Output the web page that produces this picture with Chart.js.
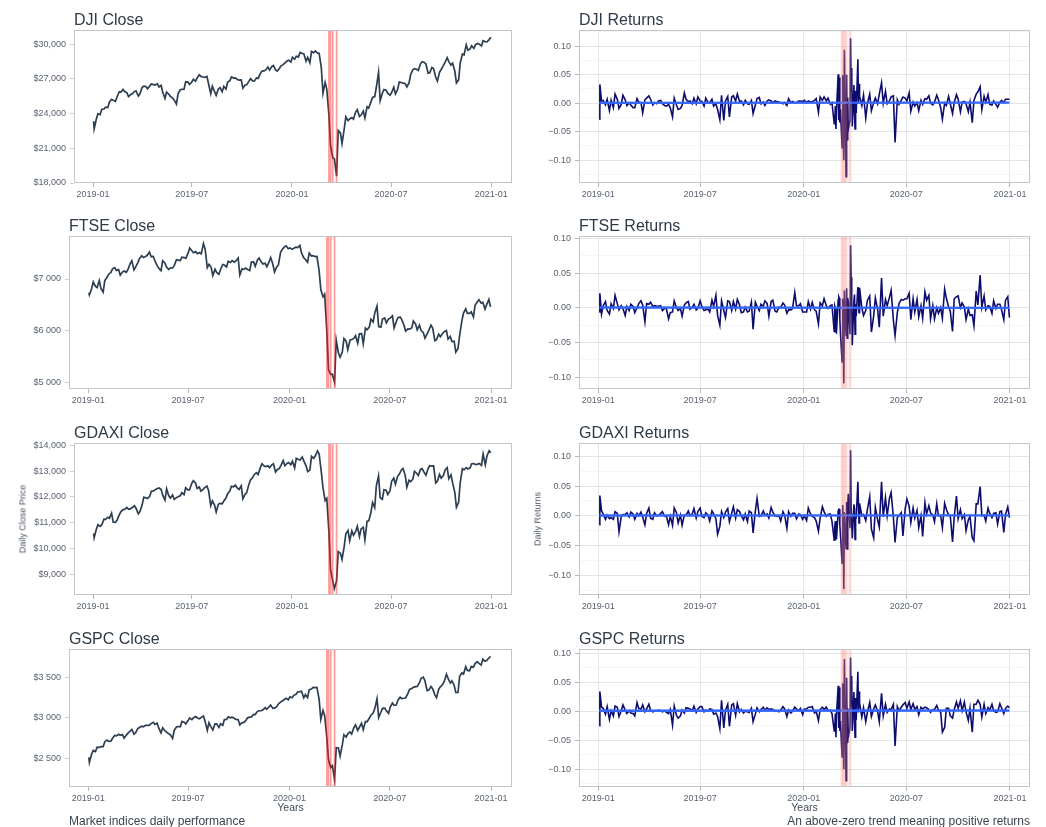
<!DOCTYPE html>
<html><head><meta charset="utf-8">
<script src="https://cdn.jsdelivr.net/npm/chart.js@4.4.1/dist/chart.umd.min.js"></script>
<style>
html,body{margin:0;padding:0;background:#fff;width:1046px;height:827px;overflow:hidden;font-family:"Liberation Sans",Arial,sans-serif;}
.pane{position:absolute;}
.ttl{position:absolute;font-size:16px;line-height:16px;color:#2e3a46;white-space:nowrap;}
.axt{position:absolute;font-size:10.5px;line-height:10.5px;color:#3f4a56;white-space:nowrap;}
.yt{position:absolute;font-size:9px;line-height:9px;color:#4a5562;white-space:nowrap;transform:translate(-50%,-50%) rotate(-90deg);}
.cap{position:absolute;font-size:12px;line-height:12px;color:#3a4552;white-space:nowrap;}
</style></head><body>
<script>
// ---------- axis ticks / labels ----------
const xTickDates = ['2019-01-01','2019-07-01','2020-01-01','2020-07-01','2021-01-01'];
const xTickLabels = ['2019-01','2019-07','2020-01','2020-07','2021-01'];
const eventDates = ['2020-03-09','2020-03-12','2020-03-16','2020-03-23'];

const djiCloseTicks = [18000,21000,24000,27000,30000];
const djiCloseTickLabels = ['$18,000','$21,000','$24,000','$27,000','$30,000'];
const ftseCloseTicks = [5000,6000,7000];
const ftseCloseTickLabels = ['$5 000','$6 000','$7 000'];
const gdaxiCloseTicks = [9000,10000,11000,12000,13000,14000];
const gdaxiCloseTickLabels = ['$9,000','$10,000','$11,000','$12,000','$13,000','$14,000'];
const gspcCloseTicks = [2500,3000,3500];
const gspcCloseTickLabels = ['$2 500','$3 000','$3 500'];
const retMajorTicks = [-0.10,-0.05,0,0.05,0.10];
const retMajorLabels = ['\u22120.10','\u22120.05','0.00','0.05','0.10'];
const retMinorTicks = [-0.125,-0.075,-0.025,0.025,0.075,0.125];

// ---------- dates ----------
const DAY0 = Date.UTC(2019,0,1);
function dayOf(s){const p=s.split('-').map(Number);return Math.round((Date.UTC(p[0],p[1]-1,p[2])-DAY0)/86400000);}
function isoOf(d){return new Date(DAY0+d*86400000).toISOString().slice(0,10);}
function weekdaysBetween(a,b,dows){const out=[];for(let d=dayOf(a);d<=dayOf(b);d++){const w=new Date(DAY0+d*86400000).getUTCDay();if(dows.includes(w))out.push(isoOf(d));}return out;}

// close: first two days, then every Monday and Thursday
const closeDates = ['2019-01-02','2019-01-03'].concat(weekdaysBetween('2019-01-07','2020-12-31',[1,4]));
// returns: Mon/Thu, every weekday through the crash
const retDates = ['2019-01-03','2019-01-04'].concat(
  weekdaysBetween('2019-01-07','2020-02-20',[1,4]),
  weekdaysBetween('2020-02-24','2020-04-09',[1,2,3,4,5]),
  weekdaysBetween('2020-04-13','2020-12-31',[1,4]));

// ---------- close prices ----------
const djiClose = [
23346,22686, 23531,24001, 23910,24370, 24404,24553, 24528,24999,
25239,25169, 25053,25439, 25891,25850, 26091,25916,
25819,25473, 25650,25709, 25914,25962, 25516,25717,
26258,26385, 26341,26143, 26384,26559, 26511,26462, 26592,26307,
26438,25828, 25324,25862, 25679,25490, 25347,25169,
24819,25720, 26062,26106, 26112,26753, 26727,26526,
26717,26966, 26806,27088, 27359,27223, 27171,27140, 27221,26583,
25718,26378, 25897,25579, 26135,26252, 25898,26362,
26118,26728, 26835,27182, 27076,27095, 26949,26891, 26917,26201,
26478,26497, 26787,27026, 26827,26806, 27091,27046,
27462,27675, 27691,27782, 28036,27767, 28067,28164,
27783,27677, 27909,28133, 28235,28376, 28551,28621, 28462,28869,
28703,28957, 28907,29298, 29196,29160, 28535,28859,
28400,29380, 29276,29423, 29232,29219, 27961,25767,
26703,26121, 23851,21200, 20189,20087, 18592,22552, 22327,21413,
22680,23719, 23390,23538, 23650,23516, 24134,24346,
23750,23876, 24222,23625, 24597,24474, 24995,25401,
25475,26282, 27572,25128, 25763,26080, 26025,25746, 25596,25827,
26287,25707, 26085,26735, 26680,26652, 26584,26314,
26664,27387, 27791,27897, 27844,27740, 28308,28493, 28430,28292,
27500,27535, 27993,27902, 27147,26815, 27584,27817,
28149,28425, 28838,28494, 28195,28364, 27685,26659,
26925,28390, 29158,29080, 29950,29483, 29591,29872, 29639,29969,
30070,29999, 29861,30303, 30216,30200, 30404,30606];
const ftseClose = [
6734,6692, 6810,6943, 6855,6834, 6970,6818, 6747,6969,
7034,7093, 7129,7197, 7219,7168, 7183,7075,
7134,7157, 7130,7185, 7299,7355, 7177,7234,
7318,7401, 7451,7418, 7437,7460, 7523,7434, 7440,7351,
7260,7207, 7163,7353, 7311,7231, 7185,7218,
7214,7260, 7375,7368, 7358,7424, 7416,7402,
7497,7603, 7549,7510, 7531,7493, 7514,7489, 7686,7585,
7223,7286, 7226,7067, 7190,7128, 7090,7184,
7281,7271, 7235,7345, 7321,7356, 7326,7351, 7408,7078,
7197,7186, 7213,7182, 7163,7328, 7331,7248,
7369,7406, 7328,7293, 7307,7238, 7326,7416,
7286,7137, 7233,7273, 7519,7573, 7624,7645, 7587,7604,
7576,7598, 7617,7609, 7651,7507, 7412,7381,
7326,7504, 7446,7453, 7433,7436, 7157,6796,
6654,6705, 5965,5237, 5151,5152, 4994,5816, 5563,5480,
5582,5843, 5792,5628, 5812,5826, 5846,5901,
5753,5935, 5940,5741, 6048,6015, 6068,6219,
6166,6341, 6473,6077, 6064,6224, 6245,6147, 6225,6240,
6285,6050, 6176,6250, 6261,6211, 6104,5990,
6032,6026, 6050,6186, 6128,6013, 6104,6000, 5963,5851,
5937,6003, 6105,6049, 5804,5823, 5927,5879,
5942,5978, 6001,5832, 5884,5785, 5793,5582,
5654,5906, 6186,6339, 6421,6334, 6334,6363, 6266,6490,
6555,6599, 6531,6550, 6416,6502, 6602,6461];
const gdaxiClose = [
10580,10417, 10747,10922, 10856,10919, 11136,11130, 11210,11173,
11368,11022, 11014,11090, 11299,11423, 11505,11516,
11592,11518, 11543,11588, 11657,11550, 11346,11428,
11681,11988, 11964,11935, 12020,12222, 12236,12282, 12328,12346,
12287,12060, 11876,12310, 12041,11953, 12071,11902,
11972,12009, 12045,12169, 12086,12355, 12274,12271,
12521,12629, 12543,12332, 12387,12227, 12290,12362, 12418,12253,
11658,11845, 11680,11412, 11715,11747, 11730,11838,
11953,12126, 12226,12410, 12388,12457, 12342,12288, 12428,11925,
12097,12164, 12486,12655, 12748,12872, 12941,12867,
13136,13289, 13198,13180, 13207,13137, 13246,13287,
12964,13055, 13105,13222, 13407,13211, 13300,13337, 13249,13386,
13127,13495, 13452,13429, 13548,13388, 13205,12982,
13045,13575, 13494,13595, 13783,13665, 12958,12367,
11858,11944, 10625,9161, 8742,8442, 8741,9874, 9816,9571,
10076,10565, 10696,10301, 10676,10514, 10660,10862,
10467,10759, 10824,10337, 11058,11066, 11391,11781,
11587,12431, 12820,11970, 11911,12281, 12262,12093, 12232,12608,
12733,12489, 12800,12874, 13046,13104, 12838,12379,
12647,12592, 12687,12993, 12920,12830, 13066,13096, 12945,12843,
13100,13209, 13194,13208, 12542,12607, 12871,12731,
12828,13042, 13138,12704, 12854,12543, 12177,11598,
11789,12568, 13095,13053, 13138,13087, 13127,13287, 13291,13252,
13271,13296, 13223,13667, 13246,13588, 13790,13719];
const gspcClose = [
2510,2448, 2550,2596, 2583,2636, 2633,2643, 2644,2704,
2725,2707, 2710,2746, 2780,2775, 2796,2784,
2792,2749, 2784,2809, 2833,2855, 2798,2815,
2867,2880, 2895,2888, 2905,2905, 2908,2927, 2943,2918,
2932,2871, 2812,2876, 2840,2822, 2802,2789,
2744,2843, 2886,2891, 2889,2954, 2945,2924,
2964,2996, 2976,3000, 3014,2996, 2986,3004, 3021,2954,
2845,2938, 2883,2848, 2924,2923, 2879,2924,
2906,2977, 2979,3010, 2998,3006, 2992,2978, 2977,2911,
2939,2938, 2966,2998, 3007,3010, 3040,3038,
3078,3085, 3087,3097, 3122,3104, 3134,3154,
3114,3118, 3136,3169, 3191,3206, 3224,3240, 3221,3258,
3246,3275, 3288,3317, 3321,3326, 3244,3284,
3249,3345, 3352,3374, 3370,3373, 3226,2979,
3090,3024, 2747,2481, 2386,2409, 2237,2630, 2627,2527,
2664,2790, 2762,2800, 2824,2798, 2878,2912,
2843,2882, 2930,2852, 2954,2949, 2992,3030,
3056,3112, 3232,3002, 3067,3115, 3117,3084, 3053,3130,
3180,3152, 3155,3216, 3251,3236, 3239,3246,
3295,3349, 3360,3373, 3382,3385, 3431,3485, 3500,3455,
3332,3339, 3383,3357, 3281,3247, 3351,3380,
3408,3446, 3534,3484, 3427,3453, 3400,3310,
3310,3510, 3550,3537, 3627,3582, 3577,3630, 3622,3667,
3691,3668, 3647,3722, 3694,3703, 3735,3756];

// ---------- daily returns ----------
const djiRet = [-.028,.033,
.004,.005,-.003,.007,-.013,.005,-.008,.016,
.007,-.009,-.002,.014,.006,-.004,.001,-.003,
-.008,-.008,.008,.002,.001,-.017,.006,.009,
.013,.007,-.003,.001,-.001,.004,.005,-.001,-.004,-.005,
-.002,-.008,-.024,.009,-.003,-.011,-.009,-.004,
.018,.007,.003,.004,-.001,.009,-.001,.011,
.004,.003,-.005,.009,.001,.001,.007,-.005,-.001,-.011,
-.029,.014,-.030,.004,.012,-.024,.011,.013,
.004,.016,.003,.004,-.003,.005,-.001,-.002,.005,-.018,
-.003,.008,.010,-.001,.002,-.004,.004,.006,
.004,.001,.004,.003,.002,.001,-.001,.001,
-.004,.008,.001,.003,.001,.001,.004,.004,.003,.005,
.001,.004,.002,.003,.005,.008,-.016,.011,
.005,.011,.004,.009,-.002,.001,
-.036,-.031,-.005,-.045,-.014,
.051,-.030,.045,-.034,-.010,
-.078,.049,-.060,-.100,.094,
-.129,.050,-.064,.010,-.046,
-.030,.114,.023,.062,-.041,
.032,-.018,-.045,.022,-.017,
.077,-.001,.034,.012,
-.004,.014,-.026,.000,.016,-.013,
.001,.009,-.001,.016,.036,.000,.021,-.001,
.004,.011,.013,-.069,.006,-.002,.005,.011,.009,.004,
.018,-.014,.002,-.005,.001,-.013,.005,-.002,
.008,.007,.013,.000,-.003,.002,.014,.006,-.008,-.028,
.000,-.004,.012,-.001,-.018,.001,.015,.007,
-.015,.002,.003,-.001,-.015,.002,-.034,.005,
.016,.020,.029,-.011,.012,.002,.015,-.002,-.003,.004,
-.002,-.007,.002,.005,.001,.007,.007,.007];
const ftseRet = [-.006,.021,
-.009,.003,.009,-.004,-.009,.006,-.001,.018,
.006,-.003,.003,-.001,-.011,.002,-.004,.005,
.002,-.007,.000,.006,.010,.004,-.020,.006,
.005,.008,.002,.003,.002,.002,.003,-.004,-.001,-.001,
-.016,-.007,-.006,.010,.000,-.004,-.001,-.012,
.004,.007,.009,-.002,.001,.005,-.003,-.001,
.010,.002,-.004,-.003,-.002,-.006,.011,.002,.018,-.011,
-.025,.010,-.004,-.014,.010,.009,-.004,.009,
-.002,.012,.004,-.007,-.006,.001,-.006,-.005,.008,-.031,
.008,.002,-.004,.005,.002,.010,.006,-.012,
.009,.011,-.005,-.006,.001,.000,.007,.004,
-.008,-.003,-.003,-.001,.022,.003,.003,.006,-.006,-.006,
-.006,.009,-.002,.008,-.003,-.005,-.023,.007,
.003,.013,.003,-.001,.003,.004,
-.034,.002,-.001,-.035,-.036,
.011,.016,.014,-.016,-.036,
-.078,.013,-.014,-.109,.025,
-.040,.028,-.044,.014,.008,
-.038,.090,.044,.014,-.054,
.010,.019,-.038,.005,-.012,
.030,.021,-.007,.029,
.000,-.011,-.004,.011,.017,-.035,
-.012,.014,-.002,-.028,.043,-.012,.012,.003,
.015,.025,-.018,-.040,-.007,.006,.012,.011,.013,.013,
.021,-.017,.013,-.006,.012,-.013,.003,-.015,
.023,.011,.018,-.016,.003,-.016,.000,-.008,.000,-.015,
.027,.014,.001,-.005,-.034,.013,.016,.017,
.000,.007,.001,-.017,-.002,-.011,-.010,-.026,
.024,.004,.047,.001,.017,-.003,.003,.002,-.008,.010,
-.001,.005,.005,-.003,-.017,.011,.016,-.014];
const gdaxiRet = [-.015,.034,
.008,.003,-.006,.001,-.005,-.003,-.006,.007,
.004,-.027,-.001,.002,.002,.005,-.002,.006,
.003,-.006,.004,.000,.006,-.002,-.015,.004,
.013,-.004,-.006,.005,.000,.000,.004,.007,-.001,.000,
-.015,-.001,-.016,.013,.005,-.012,.001,-.016,
.001,.001,.008,.000,.003,.012,-.004,.007,
.013,-.001,-.003,.005,.001,-.009,.008,.003,-.005,-.031,
-.018,.007,-.003,.006,.012,-.010,.004,.015,
-.004,.010,.007,.000,-.007,.003,-.010,.008,.005,-.029,
.008,.029,-.001,.000,.008,.001,.003,-.004,
.014,.006,.000,-.001,.000,-.009,.007,.001,
-.021,.007,-.001,.004,.004,-.005,.003,.002,-.006,.000,
-.008,.013,.003,-.001,-.003,-.009,-.026,-.004,
.015,.007,-.001,.002,.003,-.009,
-.041,-.019,-.009,-.032,-.040,
.008,.011,.011,-.016,-.030,
-.080,.018,-.004,-.123,.006,
-.055,.023,-.056,.015,.037,
-.021,.110,.013,.013,-.038,
.019,.012,-.040,.003,-.005,
.057,.020,-.012,.021,
.000,.002,-.008,.011,.032,-.022,
-.037,.014,-.007,-.019,.057,-.002,.030,.000,
.029,.039,-.002,-.045,-.003,.000,.005,-.034,.012,.028,
.016,-.011,.013,-.004,.009,-.020,.000,-.035,
.022,.003,.017,.005,.001,-.010,.020,.000,.000,-.020,
.021,.011,.001,.000,-.044,-.002,.033,-.005,
.010,-.005,.002,-.025,-.007,-.001,-.037,-.042,
.020,.020,.049,.000,.001,-.009,.013,.004,-.003,.004,
.005,-.014,.007,.008,-.028,.002,.015,-.003];
const gspcRet = [-.025,.034,
.007,.005,-.005,.008,-.014,.001,-.008,.009,
.007,-.009,.001,.011,.002,-.004,.001,-.003,
-.004,-.008,.015,.005,.004,.011,-.001,.004,
.012,.002,-.001,.000,.000,.002,.001,-.001,.001,-.002,
-.004,.003,-.024,.009,-.007,-.012,-.008,.002,
-.003,.006,.005,.004,.001,.009,-.002,.004,
.008,.008,-.001,.002,.000,.004,.003,-.005,-.003,-.009,
-.030,.019,-.029,.002,.012,-.026,.011,.013,
-.007,.013,-.001,.003,-.003,.000,-.001,-.002,.005,-.018,
-.005,.006,-.001,.003,.007,.002,.006,.003,
.004,.003,.000,.001,-.001,.002,.008,.004,
-.009,.002,-.003,.000,.007,.004,.001,.005,-.006,.004,
.004,.007,.007,.008,-.003,.000,-.016,.003,
.007,.003,.007,.001,.002,-.004,
-.034,-.031,-.004,-.045,-.008,
.044,-.029,.041,-.034,-.017,
-.079,.048,-.050,-.100,.090,
-.120,.058,-.053,.005,-.044,
-.029,.093,.011,.061,-.034,
.033,-.016,-.045,.023,-.015,
.068,-.002,.034,.014,
-.010,.006,-.018,-.001,.015,-.009,
.004,.011,.000,-.018,.031,-.008,.012,-.002,
.004,.003,.012,-.060,.008,.001,.007,.011,.015,.005,
.016,.003,.013,.003,.008,-.006,.007,.004,
.007,.006,.003,-.002,.003,.003,.010,.002,-.002,-.036,
-.028,.005,.005,-.008,-.012,.003,.016,.005,
.018,.001,.016,-.001,-.016,.005,-.036,.012,
.012,.019,.012,-.010,.012,-.004,.006,.002,.012,.001,
-.002,-.001,.013,.006,-.004,.005,.009,.006];

// linear trend (start, end) of returns
const djiTrend = [0.0006,0.0010];
const ftseTrend = [0.0003,-0.0001];
const gdaxiTrend = [0.0005,0.0006];
const gspcTrend = [0.0008,0.0012];

// ---------- drawing ----------
Chart.defaults.font.family = '"Liberation Sans", Arial, sans-serif';
const TICK_COLOR = '#5a6370';
const TICKMARK = '#a9b0b7';

const panelPlugin = {
  id:'panel',
  afterDatasetsDraw(chart, args, o){
    const ctx = chart.ctx, a = chart.chartArea, xs = chart.scales.x;
    ctx.save();
    ctx.beginPath(); ctx.rect(a.left, a.top, a.right-a.left, a.bottom-a.top); ctx.clip();
    ctx.strokeStyle = o.color; ctx.lineWidth = o.width;
    o.days.forEach(d => { const px = xs.getPixelForValue(d); ctx.beginPath(); ctx.moveTo(px, a.top); ctx.lineTo(px, a.bottom); ctx.stroke(); });
    ctx.restore();
    ctx.save(); ctx.strokeStyle = '#c2c6cb'; ctx.lineWidth = 1;
    ctx.strokeRect(Math.round(a.left)+0.5, Math.round(a.top)+0.5, Math.round(a.right-a.left)-1, Math.round(a.bottom-a.top)-1);
    ctx.restore();
  }
};

const panels = [
 {title:'DJI Close', col:0, left:74, right:512, top:29, bottom:183, kind:'close', values:djiClose, yMin:18000, yMax:31200, yTicks:djiCloseTicks, yLabels:djiCloseTickLabels},
 {title:'DJI Returns', col:520, left:579, right:1030, top:29, bottom:183, kind:'ret', values:djiRet, trend:djiTrend, yMin:-0.140, yMax:0.1278},
 {title:'FTSE Close', col:0, left:69, right:512, top:235, bottom:389, kind:'close', values:ftseClose, yMin:4865, yMax:7827, yTicks:ftseCloseTicks, yLabels:ftseCloseTickLabels},
 {title:'FTSE Returns', col:520, left:579, right:1030, top:235, bottom:389, kind:'ret', values:ftseRet, trend:ftseTrend, yMin:-0.1171, yMax:0.1029},
 {title:'GDAXI Close', col:0, left:74, right:512, top:442, bottom:595, kind:'close', values:gdaxiClose, yMin:8192, yMax:14077, yTicks:gdaxiCloseTicks, yLabels:gdaxiCloseTickLabels, yTitle:'Daily Close Price', yTitleX:23},
 {title:'GDAXI Returns', col:520, left:579, right:1030, top:442, bottom:595, kind:'ret', values:gdaxiRet, trend:gdaxiTrend, yMin:-0.1333, yMax:0.1217, yTitle:'Daily Returns', yTitleX:538},
 {title:'GSPC Close', col:0, left:69, right:512, top:648, bottom:787, kind:'close', values:gspcClose, yMin:2146, yMax:3841, yTicks:gspcCloseTicks, yLabels:gspcCloseTickLabels, xTitle:'Years'},
 {title:'GSPC Returns', col:520, left:579, right:1030, top:648, bottom:787, kind:'ret', values:gspcRet, trend:gspcTrend, yMin:-0.1308, yMax:0.1068, xTitle:'Years'}
];

const xTickDays = xTickDates.map(dayOf);
const eventDays = eventDates.map(dayOf);
const isMajorRet = v => retMajorTicks.some(m => Math.abs(m - v) < 1e-9);

function addText(cls, text, css){const d=document.createElement('div');d.className=cls;d.textContent=text;d.style.cssText=css;document.body.appendChild(d);}

panels.forEach(p => {
  const isRet = p.kind === 'ret';
  const ct = p.top - 8;
  const w = p.right + 6 - p.col, h = p.bottom + 22 - ct;
  const wrap = document.createElement('div');
  wrap.className = 'pane';
  wrap.style.cssText = `left:${p.col}px;top:${ct}px;width:${w}px;height:${h}px`;
  const cv = document.createElement('canvas');
  wrap.appendChild(cv); document.body.appendChild(wrap);
  const yW = p.left - p.col;

  let datasets, yTickVals, yLabelFn;
  if (isRet) {
    const dates = retDates.map(dayOf);
    datasets = [
      {data: [{x:dates[0], y:p.trend[0]}, {x:dates[dates.length-1], y:p.trend[1]}], borderColor:'#3366FF', borderWidth:2.4, pointRadius:0, order:0},
      {data: p.values.map((v,i)=>({x:dates[i], y:v})), borderColor:'#0d0d6e', borderWidth:1.6, pointRadius:0, order:1}
    ];
    yTickVals = retMajorTicks.concat(retMinorTicks.filter(v => v >= p.yMin && v <= p.yMax)).sort((a,b)=>a-b);
    yLabelFn = v => { const k = retMajorTicks.findIndex(m => Math.abs(m - v) < 1e-9); return k >= 0 ? retMajorLabels[k] : ''; };
  } else {
    const dates = closeDates.map(dayOf);
    datasets = [{data: p.values.map((v,i)=>({x:dates[i], y:v})), borderColor:'#2c3e50', borderWidth:1.7, pointRadius:0}];
    yTickVals = p.yTicks.slice();
    yLabelFn = v => p.yLabels[p.yTicks.indexOf(v)];
  }

  new Chart(cv, {
    type:'line',
    data:{datasets},
    options:{
      responsive:true, maintainAspectRatio:false, animation:false,
      layout:{padding:{left:0, top:8, right:6, bottom:0}},
      elements:{line:{tension:0}},
      plugins:{legend:{display:false}, tooltip:{enabled:false},
        panel:{days:eventDays, color: isRet ? 'rgba(250,128,114,0.30)' : 'rgba(255,30,30,0.45)', width: isRet ? 2.8 : 1.7}},
      scales:{
        x:{type:'linear', min: isRet ? -34 : -35, max: isRet ? 766.5 : 769,
          afterFit(s){ s.height = 22; },
          afterBuildTicks(s){ s.ticks = xTickDays.map(v => ({value:v})); },
          ticks:{callback:(v,i)=>xTickLabels[i], autoSkip:false, maxRotation:0, minRotation:0, padding:2, color:TICK_COLOR, font:{size:9}},
          grid:{display:true, drawOnChartArea:isRet, color:'#e1e4e8', lineWidth:0.9, drawTicks:true, tickLength:4, tickColor:TICKMARK},
          border:{display:false}},
        y:{type:'linear', min:p.yMin, max:p.yMax,
          afterFit(s){ s.width = yW; },
          afterBuildTicks(s){ s.ticks = yTickVals.map(v => ({value:v})); },
          ticks:{callback:(v)=>yLabelFn(v), autoSkip:false, padding:4, color:TICK_COLOR, font:{size:9}},
          grid:{display:true, drawOnChartArea:isRet,
            color: c => (c.tick && isMajorRet(c.tick.value)) ? '#dfe2e6' : '#eef0f2',
            lineWidth: c => (c.tick && isMajorRet(c.tick.value)) ? 0.9 : 0.6,
            drawTicks:true, tickLength:4,
            tickColor: c => (!isRet || (c.tick && isMajorRet(c.tick.value))) ? TICKMARK : 'rgba(0,0,0,0)'},
          border:{display:false}}
      }
    },
    plugins:[panelPlugin]
  });

  addText('ttl', p.title, `left:${p.left}px;top:${p.top - 17.5}px;`);
  if (p.yTitle) addText('yt', p.yTitle, `left:${p.yTitleX}px;top:${(p.top+p.bottom)/2}px;`);
  if (p.xTitle) addText('axt', p.xTitle, `left:${(p.left+p.right)/2}px;top:802px;transform:translateX(-50%);`);
});

addText('cap', 'Market indices daily performance', 'left:69px;top:814.5px;');
addText('cap', 'An above-zero trend meaning positive returns', 'right:16px;top:814.5px;');
</script>
</body></html>
